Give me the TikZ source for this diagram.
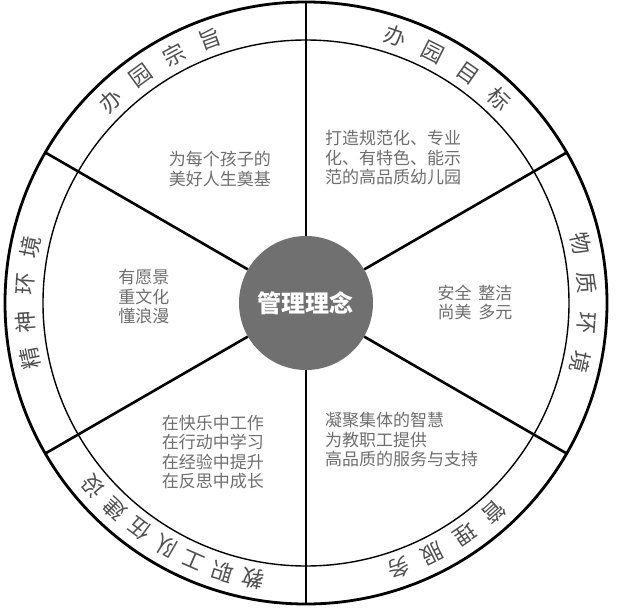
\documentclass[tikz,border=0pt]{standalone}
\usepackage{fontspec}
\newfontfamily\cjk{Noto Sans CJK SC}
\usetikzlibrary{positioning}
\definecolor{coregray}{HTML}{717070}
\definecolor{textgray}{HTML}{6E6E6E}
\definecolor{ringgray}{HTML}{505050}

% name, centre angle, step, count, characters
\newcommand{\ringtext}[5]{%
  \foreach \ch [count=\i] in {#5} {
    \pgfmathsetmacro{\ringang}{#2+((#4+1)/2-\i)*#3}
    \node[ringchar, rotate=\ringang-90] (#1-\i) at (\ringang:281) {\ch};
  }
}

\begin{document}
\begin{tikzpicture}[x=1pt, y=1pt,
    every node/.style={font=\cjk},
    rim/.style={draw=black, line width=2.8pt},
    band/.style={draw=black, line width=1.4pt},
    divider/.style={draw=black, line width=2.6pt},
    core/.style={circle, fill=coregray, minimum size=134pt, inner sep=0pt, text=white, font=\cjk\bfseries\fontsize{24}{28}\selectfont},
    body/.style={text=textgray, font=\cjk\fontsize{17}{19.5}\selectfont, inner sep=0pt},
    ringchar/.style={text=ringgray, font=\cjk\fontsize{22}{22}\selectfont, inner sep=0pt}
]
    \useasboundingbox (-306,-308) rectangle (315,303);

    % Rings
    \draw[rim] (0,0) circle (301);
    \draw[band] (0,0) circle (263);

    % Centre
    \node[core] (core) at (0,0) {管理理念};

    % Dividers
    \foreach \a in {30,90,...,330} {
        \coordinate (rim\a) at (\a:301);
        \draw[divider] (core.\a) -- (rim\a);
    }

    % Ring labels
    \ringtext{aim}{122}{8}{4}{办,园,宗,旨}
    \ringtext{goal}{59}{8.3}{4}{办,园,目,标}
    \ringtext{phys}{0}{8.1}{4}{物,质,环,境}
    \ringtext{serv}{-59.4}{7.6}{4}{管,理,服,务}
    \ringtext{staff}{-120}{6.4}{7}{教,职,工,队,伍,建,设}
    \ringtext{spirit}{180}{7.6}{4}{精,神,环,境}

    % Sector texts
    \node[body, align=center] (aimtext) at (-86,134) {为每个孩子的\\美好人生奠基};
    \node[body, anchor=west, align=left] (goaltext) at (19,145) {打造规范化、专业\\化、有特色、能示\\范的高品质幼儿园};
    \node[body, align=left] (phystext) at (169,0.5) {安全\hspace{0.4em}整洁\\尚美\hspace{0.4em}多元};
    \node[body, align=center] (spirittext) at (-162,6) {有愿景\\重文化\\懂浪漫};
    \node[body, align=center] (stafftext) at (-93,-149) {在快乐中工作\\在行动中学习\\在经验中提升\\在反思中成长};
    \node[body, anchor=west, align=left] (servtext) at (19,-137) {凝聚集体的智慧\\为教职工提供\\高品质的服务与支持};
\end{tikzpicture}
\end{document}
